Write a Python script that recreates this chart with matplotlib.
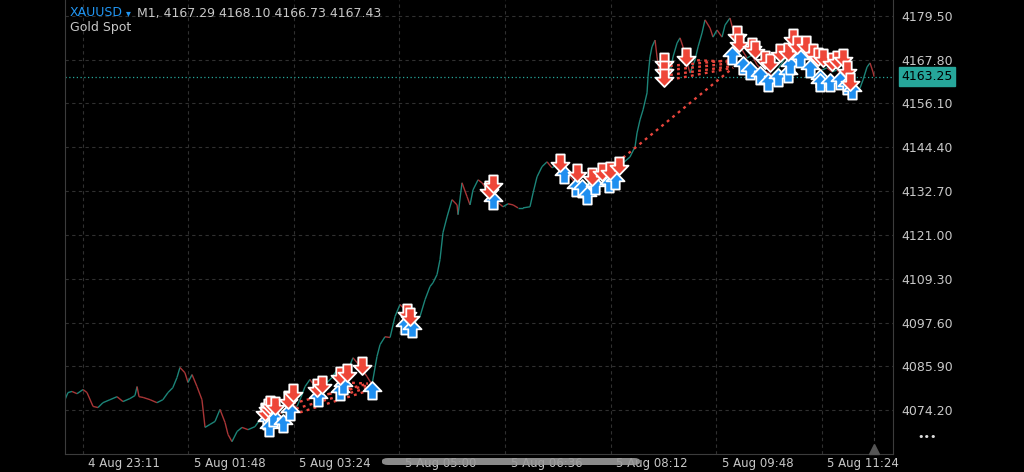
import matplotlib
matplotlib.use('Agg')
import matplotlib.pyplot as plt
import numpy as np
from matplotlib.collections import LineCollection
from matplotlib.path import Path
from matplotlib.patches import FancyBboxPatch

# bar index (M1 bars) and price
bars = [0, 2.7, 6.4, 10.9, 16.4, 20, 25.5, 30, 34.5, 40.9, 47.3, 52.7, 59, 63.6, 65.5, 67.3,
        71, 77.3, 83.6, 89, 93.6, 98, 101.8, 104.5, 109, 111.8, 115.5, 120, 124.5, 127.3,
        131.8, 136.4, 140.9, 145.5, 148.2, 151.8, 156.4, 160.9, 166.4, 172.7, 177.3, 183.6,
        188.2, 192.7, 197.3, 201.8, 206.4, 210.9, 214.5, 218.2, 222.7, 229.1, 233.6, 238.2,
        242.7, 247.3, 251.8, 256.4, 261.8, 265.5, 268.2, 274.5, 279.1, 283.6, 286.4, 290.9,
        295.5, 300, 304.5, 308.2, 310.9, 316.4, 320, 322.7, 327.3, 331.8, 334.5, 338.2,
        340.9, 343.6, 347.3, 351.8, 356.4, 357.3, 360.9, 365.5, 368.2, 370.9, 375.5, 379.1,
        383.6, 389.1, 393.6, 398.2, 402.7, 407.3, 411.8, 416.4, 422.7, 425.5, 429.1, 433.6,
        438.2, 442.7, 447.3, 451.8, 459.1, 463.6, 468.2, 472.7, 477.3, 481.8, 486.4, 490.9,
        495.5, 501.8, 507.3, 513.6, 518.2, 520, 522.7, 525.5, 529.1, 530, 531.8, 533.6,
        536.4, 538.2, 540.9, 545.5, 550, 552.7, 556.4, 559.1, 561.8, 565.5, 568.2, 572.7,
        575.5, 579.1, 581.8, 586.4, 589.1, 592.7, 597.3, 600, 604.5, 607.3, 610.9, 615.5,
        620, 624.5, 629.1, 633.6, 638.2, 642.7, 647.3, 651.8, 656.4, 660.9, 665.5, 670,
        674.5, 679.1, 683.6, 688.2, 692.7, 697.3, 701.8, 706.4, 710.9, 715.5, 720, 722.7,
        725.5, 729.1, 731.8, 734.5, 735.5]
closes = [4077.0, 4078.9, 4079.2, 4078.6, 4079.7, 4078.9, 4075.2, 4074.9, 4076.2, 4077.0,
          4077.8, 4076.5, 4077.3, 4078.1, 4080.5, 4077.8, 4077.6, 4077.0, 4076.2, 4077.0,
          4078.9, 4080.2, 4082.9, 4085.6, 4084.2, 4081.6, 4083.7, 4080.5, 4077.0, 4069.6,
          4070.4, 4071.2, 4074.4, 4070.9, 4067.7, 4065.8, 4068.5, 4069.6, 4069.0, 4069.8,
          4071.7, 4072.5, 4072.2, 4073.6, 4073.3, 4074.4, 4075.4, 4075.2, 4077.6, 4080.5,
          4082.4, 4079.7, 4080.8, 4081.6, 4082.9, 4085.0, 4083.7, 4084.2, 4088.2, 4086.9,
          4085.8, 4083.2, 4081.0, 4088.5, 4091.7, 4093.8, 4093.6, 4099.2, 4102.4, 4101.3,
          4100.2, 4096.5, 4098.4, 4099.2, 4103.7, 4107.2, 4108.2, 4110.4, 4114.4, 4121.6,
          4125.8, 4130.4, 4129.0, 4126.4, 4134.9, 4131.2, 4129.0, 4133.0, 4135.7, 4134.9,
          4133.0, 4130.4, 4129.6, 4128.5, 4129.3, 4129.0, 4128.2, 4128.2, 4128.5, 4132.2,
          4136.5, 4139.2, 4140.5, 4138.9, 4139.7, 4138.9, 4136.5, 4134.9, 4134.4, 4133.8,
          4135.7, 4136.2, 4136.8, 4136.2, 4137.6, 4138.9, 4140.2, 4141.8, 4144.5, 4148.2,
          4151.7, 4154.4, 4158.9, 4163.2, 4168.5, 4171.2, 4173.0, 4168.5, 4163.2, 4161.8,
          4164.2, 4168.5, 4172.2, 4173.6, 4171.2, 4166.9, 4164.2, 4167.7, 4171.2, 4174.9,
          4178.4, 4176.2, 4173.8, 4175.7, 4173.8, 4177.0, 4178.9, 4175.7, 4173.0, 4170.4,
          4168.2, 4169.0, 4166.4, 4165.0, 4164.5, 4163.7, 4165.0, 4166.9, 4169.0, 4171.7,
          4170.9, 4169.0, 4168.2, 4167.2, 4165.6, 4165.0, 4165.6, 4164.5, 4165.0, 4163.7,
          4162.4, 4160.5, 4159.2, 4160.2, 4162.4, 4165.8, 4166.9, 4164.5, 4163.25]

# sell deals (red down arrows)
sell_bars = [181.8, 184.5, 186.4, 190.9, 202.7, 207.3, 229.1, 233.6, 250, 256.4, 270,
             310.9, 313.6, 385.5, 389.1,
             450, 465.5, 479.1, 488.2, 495.5, 503.6,
             544.5, 544.5, 544.5, 564.5,
             610.9, 612.7, 624.5, 627.3, 636.4, 640.9, 650, 657.3, 661.8, 665.5, 673.6,
             680, 684.5, 689.1, 697.3, 701.8, 707.3, 710.9, 713.6]
sell_prices = [4073.6, 4074.9, 4075.7, 4075.2, 4077.0, 4078.9, 4080.2, 4080.8, 4083.2, 4084.2, 4086.1,
               4100.2, 4099.2, 4133.0, 4134.6,
               4140.2, 4137.6, 4136.5, 4137.8, 4138.1, 4139.4,
               4167.2, 4165.0, 4162.9, 4168.5,
               4174.4, 4172.2, 4171.2, 4170.4, 4167.7, 4166.9, 4169.6, 4169.8, 4173.6, 4171.7, 4171.7,
               4169.6, 4168.5, 4168.2, 4167.2, 4167.7, 4168.2, 4165.0, 4161.8]

# buy deals (blue up arrows)
buy_bars = [183.6, 185.5, 189.1, 198.2, 204.5, 230, 250, 252.7, 279.1,
            309.1, 315.5, 389.1,
            453.6, 464.5, 470, 474.5, 481.8, 494.5, 500,
            606.4, 616.4, 622.7, 631.8, 639.1, 648.2, 657.3, 659.1, 668.2, 677.3, 686.4,
            686.4, 695.5, 704.5, 710.9, 715.5]
buy_prices = [4071.7, 4069.8, 4072.5, 4070.9, 4074.1, 4077.6, 4079.2, 4081.0, 4079.7,
              4097.0, 4096.2, 4130.4,
              4137.3, 4133.8, 4133.6, 4131.7, 4134.4, 4134.9, 4135.7,
              4169.0, 4166.4, 4165.0, 4163.7, 4161.8, 4163.2, 4164.2, 4166.4, 4168.2, 4165.6, 4162.9,
              4161.8, 4161.8, 4162.4, 4161.0, 4159.7]

# position lines: open bar/price -> close bar/price
pos_open_bars = [207.3, 210, 213.6, 233.6, 254.5, 507.3, 550, 550, 550, 550, 568.2]
pos_open_prices = [4076.0, 4074.6, 4073.6, 4078.1, 4081.6, 4141.6, 4166.1, 4165.0, 4163.7, 4162.4, 4167.7]
pos_close_bars = [275.5, 275.5, 275.5, 275.5, 275.5, 607.3, 607.3, 607.3, 607.3, 607.3, 607.3]
pos_close_prices = [4081.3, 4080.2, 4079.4, 4080.8, 4081.3, 4165.6, 4167.7, 4166.9, 4166.1, 4165.6, 4167.2]

y_ticks = [4074.20, 4085.90, 4097.60, 4109.30, 4121.00, 4132.70, 4144.40, 4156.10, 4167.80, 4179.50]
x_ticks = [16, 112, 208, 304, 400, 496, 592, 688]
x_labels = ['4 Aug 23:11', '5 Aug 01:48', '5 Aug 03:24', '5 Aug 05:00', '5 Aug 06:36',
            '5 Aug 08:12', '5 Aug 09:48', '5 Aug 11:24']
last_price = 4163.25

W, H = 1024, 472
fig = plt.figure(figsize=(W / 100, H / 100), dpi=100, facecolor='black')
ax = fig.add_axes([65 / W, 18 / H, (893 - 65) / W, (H - 18) / H], facecolor='black')

grid_kw = dict(color='#303030', lw=0.8, ls=(0, (3, 3)), zorder=0)
for y in y_ticks:
    ax.axhline(y, **grid_kw)
for x in x_ticks:
    ax.axvline(x, **grid_kw)
ax.axvline(bars[-1], color='#3a3a3a', lw=0.8, ls=(0, (3, 3)), zorder=0)

# price as thin candle-like line
pts = np.column_stack([bars, closes])
segs = np.stack([pts[:-1], pts[1:]], axis=1)
cols = ['#1c8478' if c1 >= c0 else '#a83536' for c0, c1 in zip(closes[:-1], closes[1:])]
ax.add_collection(LineCollection(segs, colors=cols, linewidths=1.0, zorder=2))

# current price line
ax.axhline(last_price, color='#26a69a', lw=0.9, ls=(0, (1, 2)), zorder=1)

for xo, yo, xc, yc in zip(pos_open_bars, pos_open_prices, pos_close_bars, pos_close_prices):
    ax.plot([xo, xc], [yo, yc], color='#e8453c', lw=1.7, ls=(0, (1.2, 1.8)), zorder=3)

# block arrow markers
down_verts = [(-0.42, 0.9), (0.42, 0.9), (0.42, 0.08), (0.9, 0.08), (0.0, -0.85),
              (-0.9, 0.08), (-0.42, 0.08), (-0.42, 0.9)]
down_arrow = Path(down_verts, closed=True)
up_arrow = Path([(vx, -vy) for vx, vy in down_verts], closed=True)

ax.plot(sell_bars, sell_prices, ls='none', marker=down_arrow, ms=13, mfc='#ee4638',
        mec='white', mew=1.3, zorder=5)
ax.plot(buy_bars, buy_prices, ls='none', marker=up_arrow, ms=13, mfc='#1f8ff0',
        mec='white', mew=1.3, zorder=4)

ax.set_xlim(0, 752.7)
ax.set_ylim(4062.5, 4183.7)

ax.yaxis.tick_right()
ax.set_yticks(y_ticks)
ax.set_yticklabels(['%.2f' % v for v in y_ticks])
ax.tick_params(axis='y', length=0, pad=6, labelcolor='#c8c8c8', labelsize=9)
ax.set_xticks([])
for x, lab in zip(x_ticks, x_labels):
    ax.annotate(lab, (x, 0), xycoords=('data', 'axes fraction'), xytext=(4, -7),
                textcoords='offset points', ha='left', va='center', color='#c8c8c8',
                fontsize=8.5, annotation_clip=False)

for side in ['left', 'bottom', 'right']:
    ax.spines[side].set_color('#3c3c3c')
ax.spines['top'].set_visible(False)

# last price label
ax.annotate('%.2f' % last_price, (1.0, last_price), xycoords=('axes fraction', 'data'),
            xytext=(6, 0), textcoords='offset points', ha='left', va='center', fontsize=9,
            color='black', annotation_clip=False,
            bbox=dict(boxstyle='square,pad=0.22', fc='#26a69a', ec='#26a69a'))

# last bar marker at bottom
ax.plot([bars[-1]], [0.012], marker='^', ms=7, color='#555555',
        transform=ax.get_xaxis_transform(), clip_on=False, zorder=6)

# header
fig.text(70 / W, 1 - 13 / H, 'XAUUSD', color='#2196f3', fontsize=9, va='center')
fig.text(126 / W, 1 - 13 / H, '\u25be', color='#2196f3', fontsize=7, va='center')
fig.text(137 / W, 1 - 13 / H, 'M1, 4167.29 4168.10 4166.73 4167.43', color='#c8c8c8',
         fontsize=9, va='center')
fig.text(70 / W, 1 - 28 / H, 'Gold Spot', color='#c8c8c8', fontsize=9, va='center')

fig.text(927 / W, 1 - 437 / H, '\u2022\u2022\u2022', color='#dddddd', fontsize=8,
         ha='center', va='center')

# scroll bar
fig.patches.append(FancyBboxPatch((382 / W, 1 - 465 / H), 258 / W, 7 / H,
                                  boxstyle='round,pad=0,rounding_size=0.006',
                                  transform=fig.transFigure, fc='#9a9a9a', ec='none',
                                  alpha=0.9, zorder=10))

fig.savefig('out.png', dpi=100, facecolor='black')
